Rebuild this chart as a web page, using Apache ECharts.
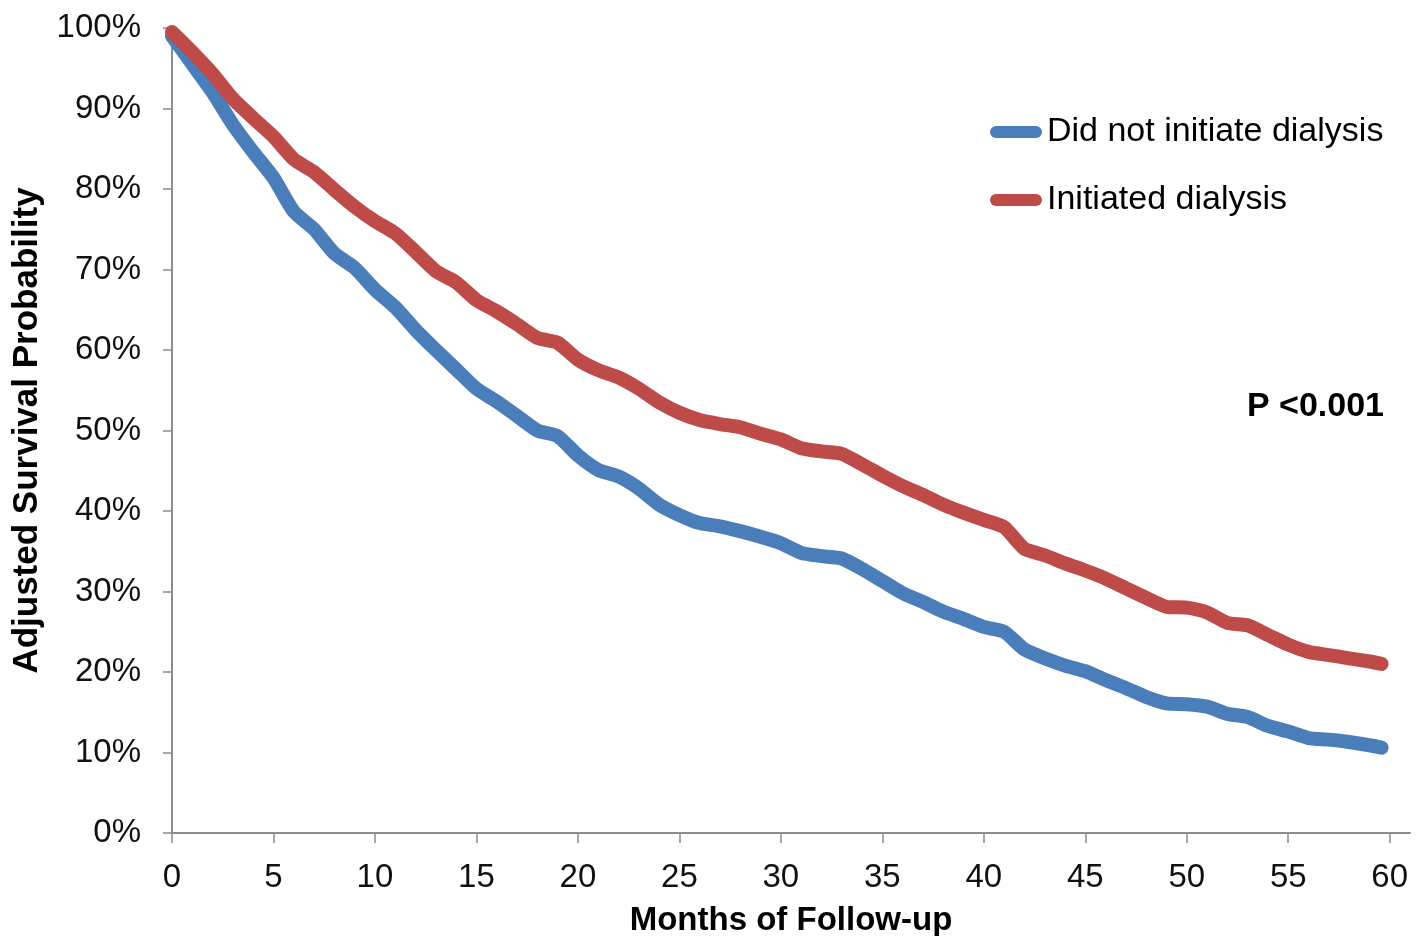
<!DOCTYPE html>
<html>
<head>
<meta charset="utf-8">
<title>Adjusted survival by dialysis initiation</title>
<script src="https://cdn.jsdelivr.net/npm/echarts@6/dist/echarts.min.js"></script>
<style>
  html, body { margin: 0; padding: 0; background: #fff; }
  #chart { width: 1426px; height: 936px; }
</style>
</head>
<body>
<div id="chart"></div>
<script>
// months of follow-up (%)
const months = [0, 1, 2, 3, 4, 5, 6, 7, 8, 9, 10, 11, 12, 13, 14, 15, 16, 17, 18, 19,
  20, 21, 22, 23, 24, 25, 26, 27, 28, 29, 30, 31, 32, 33, 34, 35, 36, 37, 38, 39,
  40, 41, 42, 43, 44, 45, 46, 47, 48, 49, 50, 51, 52, 53, 54, 55, 56, 57, 58, 59, 59.6]

const noDialysis = [99.0, 95.5, 92.0, 88.0, 84.6, 81.4, 77.2, 75.0, 72.0, 70.2,
  67.5, 65.3, 62.5, 60.0, 57.6, 55.2, 53.6, 51.8, 50.0, 49.3,
  46.9, 45.1, 44.3, 42.8, 40.8, 39.5, 38.5, 38.1, 37.5, 36.8,
  36.0, 34.8, 34.4, 34.1, 32.8, 31.3, 29.8, 28.7, 27.5, 26.6,
  25.6, 25.0, 22.8, 21.7, 20.8, 20.1, 19.0, 18.0, 16.9, 16.1,
  16.0, 15.7, 14.8, 14.4, 13.3, 12.6, 11.8, 11.6, 11.3, 10.9, 10.6]

const dialysis = [99.5, 97.0, 94.3, 91.2, 88.8, 86.5, 83.7, 82.1, 79.9, 77.8,
  76.0, 74.5, 72.2, 69.8, 68.4, 66.2, 64.8, 63.2, 61.5, 60.9,
  58.8, 57.5, 56.6, 55.2, 53.5, 52.2, 51.3, 50.8, 50.4, 49.6,
  48.9, 47.8, 47.4, 47.1, 45.8, 44.4, 43.1, 42.0, 40.8, 39.8,
  38.9, 38.0, 35.3, 34.5, 33.5, 32.6, 31.6, 30.4, 29.2, 28.1,
  28.0, 27.4, 26.1, 25.8, 24.6, 23.4, 22.5, 22.1, 21.7, 21.3, 21.0]

const xTicks = [0, 5, 10, 15, 20, 25, 30, 35, 40, 45, 50, 55, 60]
const seriesNames = ['Did not initiate dialysis', 'Initiated dialysis']
const colors = ['#4a7ebb', '#be4b48']

const font = "'Liberation Sans', Arial, sans-serif"
const axisColor = '#8c8c8c'
const capsule = 'path://M6,0 L46,0 A6,6 0 0 1 46,12 L6,12 A6,6 0 0 1 6,0 Z'

const chart = echarts.init(document.getElementById('chart'))

const pairs = (vals) => months.map((m, i) => [m, vals[i]])

chart.setOption({
  animation: false,
  color: colors,
  grid: { left: 172, right: 16, top: 28, bottom: 103, containLabel: false, outerBoundsMode: 'none' },
  title: {
    text: 'P <0.001',
    right: 42,
    top: 390,
    padding: 0,
    textStyle: { fontFamily: font, fontSize: 34, fontWeight: 'bold', color: '#000' },
  },
  legend: {
    orient: 'vertical',
    left: 990,
    top: 115,
    padding: 0,
    itemWidth: 52,
    itemHeight: 12,
    itemGap: 34,
    itemTextGap: 0,
    icon: capsule,
    data: seriesNames,
    textStyle: { fontFamily: font, fontSize: 34, color: '#000' },
  },
  xAxis: {
    type: 'value',
    min: 0,
    max: 61,
    interval: 5,
    name: 'Months of Follow-up',
    nameLocation: 'middle',
    nameGap: 71,
    nameTextStyle: { fontFamily: font, fontSize: 33, fontWeight: 'bold', color: '#000' },
    axisLine: { lineStyle: { color: axisColor, width: 2 } },
    axisTick: { show: true, length: 10, customValues: xTicks, lineStyle: { color: axisColor, width: 1.5 } },
    axisLabel: { customValues: xTicks, margin: 28, fontFamily: font, fontSize: 33, color: '#111' },
    splitLine: { show: false },
  },
  yAxis: {
    type: 'value',
    min: 0,
    max: 100,
    interval: 10,
    name: 'Adjusted Survival Probability',
    nameLocation: 'middle',
    nameGap: 127,
    nameTextStyle: { fontFamily: font, fontSize: 35, fontWeight: 'bold', color: '#000' },
    axisLine: { show: true, lineStyle: { color: axisColor, width: 2 } },
    axisTick: { show: true, length: 9, lineStyle: { color: axisColor, width: 1.5 } },
    axisLabel: { formatter: '{value}%', margin: 31, fontFamily: font, fontSize: 33, color: '#111' },
    splitLine: { show: false },
  },
  series: [
    {
      name: seriesNames[0], type: 'line', data: pairs(noDialysis), showSymbol: false, smooth: 0.2,
      lineStyle: { width: 14, color: colors[0], cap: 'round', join: 'round' },
      itemStyle: { color: colors[0] },
    },
    {
      name: seriesNames[1], type: 'line', data: pairs(dialysis), showSymbol: false, smooth: 0.2,
      lineStyle: { width: 14, color: colors[1], cap: 'round', join: 'round' },
      itemStyle: { color: colors[1] },
    },
  ],
})
</script>
</body>
</html>
